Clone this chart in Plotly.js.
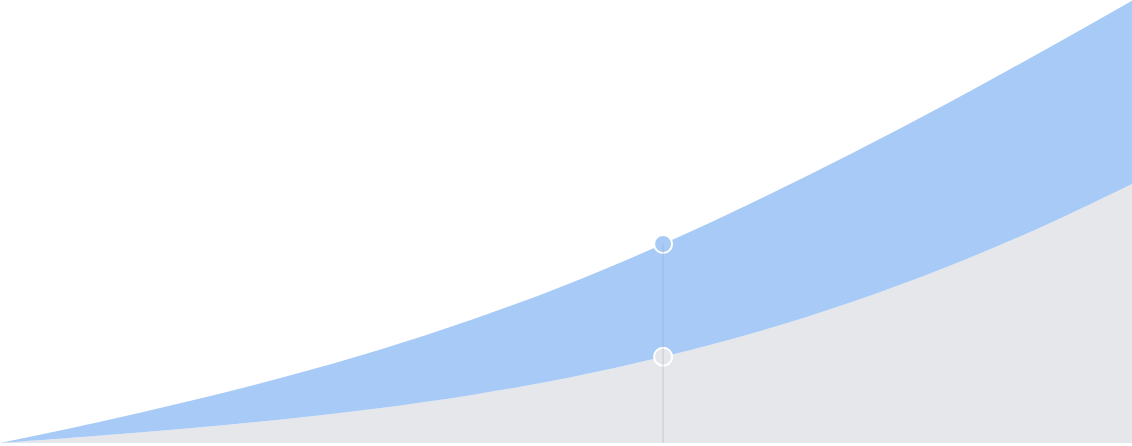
<!DOCTYPE html>
<html>
<head>
<meta charset="utf-8">
<script src="https://cdn.plot.ly/plotly-3.0.1.min.js"></script>
<style>
  html, body { margin: 0; padding: 0; background: #fff; }
  #chart { width: 1132px; height: 446px; }
</style>
</head>
<body>
<div id="chart"></div>
<script>
// ── data ────────────────────────────────────────────────
const periods   = [0, 1, 2, 3, 4, 5, 6, 7, 8, 9, 10, 11, 12];
const baseVals  = [0, 7, 14.8, 23.8, 34.8, 48.3, 65.3, 86.3, 111.3, 141.3, 176.3, 216.3, 261.3]; // gray, bottom
const upperVals = [0, 13, 27.2, 42.2, 58.2, 75.7, 93.7, 112.7, 131.7, 148.7, 163.2, 175.2, 183.7]; // blue, stacked
const hoverIdx  = 7;

const BLUE = '#a8caf6';
const GRAY = '#e5e7eb';

const hx     = periods[hoverIdx];
const hBase  = baseVals[hoverIdx];
const hTotal = baseVals[hoverIdx] + upperVals[hoverIdx];

const traces = [
  {
    type: 'scatter', mode: 'lines',
    x: periods, y: baseVals,
    stackgroup: 'one',
    line: { width: 0, shape: 'spline', color: GRAY },
    fillcolor: GRAY,
    hoverinfo: 'skip',
  },
  {
    type: 'scatter', mode: 'lines',
    x: periods, y: upperVals,
    stackgroup: 'one',
    line: { width: 0, shape: 'spline', color: BLUE },
    fillcolor: BLUE,
    hoverinfo: 'skip',
  },
  // hover markers
  {
    type: 'scatter', mode: 'markers',
    x: [hx, hx], y: [hBase, hTotal],
    marker: { size: 18, color: [GRAY, BLUE], line: { color: '#ffffff', width: 2 } },
    cliponaxis: false,
    hoverinfo: 'skip',
  },
];

const layout = {
  width: 1132, height: 446,
  margin: { l: 0, r: 0, t: 0, b: 3, pad: 0 },
  paper_bgcolor: '#ffffff',
  plot_bgcolor: '#ffffff',
  showlegend: false,
  xaxis: { range: [0, 11.95], visible: false, fixedrange: true },
  yaxis: { range: [0, 443], visible: false, fixedrange: true },
  shapes: [
    {
      type: 'line', layer: 'above',
      xref: 'x', yref: 'y',
      x0: hx, x1: hx, y0: -3, y1: hTotal,
      line: { color: 'rgba(156,163,175,0.28)', width: 1.5 },
    },
  ],
};

Plotly.newPlot('chart', traces, layout, { displayModeBar: false, staticPlot: true });
</script>
</body>
</html>
